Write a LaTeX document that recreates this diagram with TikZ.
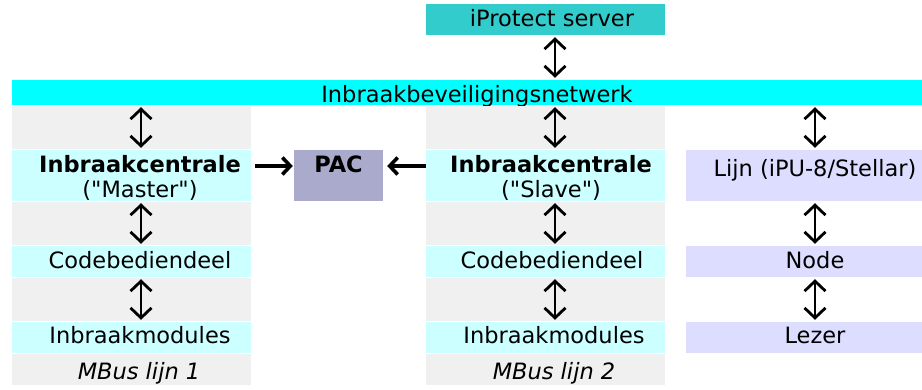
\documentclass[tikz,border=0pt]{standalone}
\usepackage{fontspec}
\setmainfont{DejaVu Sans}[Ligatures=TeXOff]
\usetikzlibrary{arrows.meta,positioning}
\definecolor{srvteal}{RGB}{51,204,204}
\definecolor{netcyan}{RGB}{0,255,255}
\definecolor{cellcyan}{RGB}{204,255,255}
\definecolor{cellgray}{RGB}{240,240,240}
\definecolor{pacgray}{RGB}{170,170,204}
\definecolor{linelav}{RGB}{221,221,255}

\begin{document}
\begin{tikzpicture}[x=1pt, y=-1pt,
    every node/.style={font=\fontsize{22.5}{25}\selectfont},
    cell/.style={inner sep=0pt, minimum width=239pt},
    graycell/.style={cell, fill=cellgray, minimum height=43pt},
    cyancell/.style={cell, fill=cellcyan},
    lavcell/.style={inner sep=0pt, minimum width=258pt, fill=linelav},
    txt/.style={anchor=base, inner sep=0pt, align=center},
    vlink/.style={line width=1.8pt, shorten <=2pt, shorten >=2pt,
                  {Straight Barb[length=10pt,width=21pt,line width=2.8pt]}-{Straight Barb[length=10pt,width=21pt,line width=2.8pt]}},
    hlink/.style={line width=3.6pt,
                  -{Straight Barb[length=8pt,width=17pt,line width=3.6pt]}}
]
\clip (0,0) rectangle (922,389);

% Server and network
\node[inner sep=0pt, fill=srvteal, minimum width=239pt, minimum height=31pt] (srv) at (545.5,19.5) {};
\node[txt] (srvt) at (552,26) {iProtect server};
\node[inner sep=0pt, fill=netcyan, minimum width=930pt, minimum height=25pt] (net) at (477,92.5) {};
\node[txt] (nett) at (477,102) {Inbraakbeveiligingsnetwerk};

% MBus lijn 1 (master)
\node[graycell] (m0) at (131.5,127.5) {};
\node[cyancell, minimum height=51pt] (m1) at (131.5,175.5) {};
\node[graycell] (m2) at (131.5,223.5) {};
\node[cyancell, minimum height=31pt] (m3) at (131.5,261.5) {};
\node[graycell] (m4) at (131.5,299.5) {};
\node[cyancell, minimum height=31pt] (m5) at (131.5,337.5) {};
\node[cell, fill=cellgray, minimum height=31pt] (m6) at (131.5,369.5) {};
\node[txt] (m1t) at (140,197) {\textbf{Inbraakcentrale}\\("Master")};
\node[txt] (m3t) at (140,268) {Codebediendeel};
\node[txt] (m5t) at (140,343) {Inbraakmodules};
\node[txt] (m6t) at (139,379) {\textit{MBus lijn 1}};

% MBus lijn 2 (slave)
\node[graycell] (s0) at (545.5,127.5) {};
\node[cyancell, minimum height=51pt] (s1) at (545.5,175.5) {};
\node[graycell] (s2) at (545.5,223.5) {};
\node[cyancell, minimum height=31pt] (s3) at (545.5,261.5) {};
\node[graycell] (s4) at (545.5,299.5) {};
\node[cyancell, minimum height=31pt] (s5) at (545.5,337.5) {};
\node[cell, fill=cellgray, minimum height=31pt] (s6) at (545.5,369.5) {};
\node[txt] (s1t) at (551,197) {\textbf{Inbraakcentrale}\\("Slave")};
\node[txt] (s3t) at (552,268) {Codebediendeel};
\node[txt] (s5t) at (554,343) {Inbraakmodules};
\node[txt] (s6t) at (554,379) {\textit{MBus lijn 2}};

% PAC
\node[inner sep=0pt, fill=pacgray, minimum width=89pt, text height=22pt, text depth=29pt,
      font=\fontsize{22.5}{25}\selectfont\bfseries] (pac) at (338.5,175.5) {PAC};

% Lijn column
\node[lavcell, text height=26pt, text depth=25pt] (lijn) at (815,175.5) {Lijn (iPU-8/Stellar)};
\node[lavcell, text height=22pt, text depth=9pt] (node) at (815,261.5) {Node};
\node[lavcell, text height=21pt, text depth=10pt] (lezer) at (815,337.5) {Lezer};

% Connections
\draw[vlink] ([xshift=9.5pt]srv.south) -- ([xshift=9.5pt]srv.south |- net.north);
\draw[vlink] ([xshift=9.5pt]m1.north |- net.south) -- ([xshift=9.5pt]m1.north);
\draw[vlink] ([xshift=9.5pt]m1.south) -- ([xshift=9.5pt]m3.north);
\draw[vlink] ([xshift=9.5pt]m3.south) -- ([xshift=9.5pt]m5.north);
\draw[vlink] ([xshift=9.5pt]s1.north |- net.south) -- ([xshift=9.5pt]s1.north);
\draw[vlink] ([xshift=9.5pt]s1.south) -- ([xshift=9.5pt]s3.north);
\draw[vlink] ([xshift=9.5pt]s3.south) -- ([xshift=9.5pt]s5.north);
\draw[vlink] (lijn.north |- net.south) -- (lijn.north);
\draw[vlink] (lijn.south) -- (node.north);
\draw[vlink] (node.south) -- (lezer.north);
\draw[hlink, shorten <=4pt, shorten >=1pt] ([yshift=9.5pt]m1.east) -- ([yshift=9.5pt]pac.west);
\draw[hlink, shorten >=4pt] ([yshift=9.5pt]s1.west) -- ([yshift=9.5pt]pac.east);

\end{tikzpicture}
\end{document}
